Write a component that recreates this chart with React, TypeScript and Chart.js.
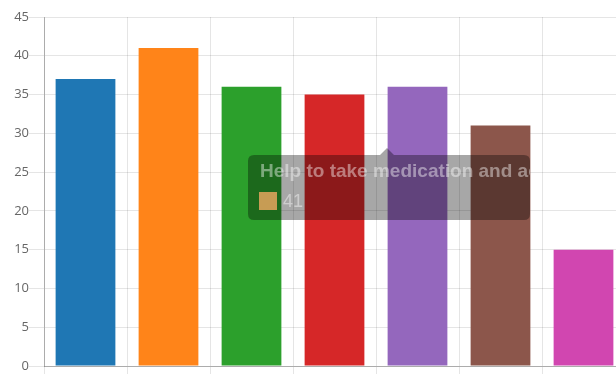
import React, { useEffect, useRef } from "react";
import { Chart, registerables } from "chart.js";

Chart.register(...registerables);

const categories = [
  "Help with personal care",
  "Help to take medication and access health services",
  "Help with meals",
  "Help with household tasks",
  "Help with transport",
  "Help with paperwork and finances",
  "Other help",
];
const values = [37, 41, 36, 35, 36, 31, 15];
const barColors = ["#1f77b4", "#ff8419", "#2ca02c", "#d62728", "#9467bd", "#8c564b", "#d146b0"];
const yMin = 0;
const yMax = 45;
const yStep = 5;
const activeIndex = 1;

const tooltipOverlay = {
  id: "tooltipOverlay",
  afterDraw(chart: any) {
    const ctx = chart.ctx;
    const a = 0.43;
    const bx = 248, by = 155, bw = 282, bh = 65, r = 6;
    const tipX = 387, tipY = 148, cs = 7;
    ctx.save();
    ctx.beginPath();
    ctx.moveTo(bx + r, by);
    ctx.lineTo(tipX - cs, by);
    ctx.lineTo(tipX, tipY);
    ctx.lineTo(tipX + cs, by);
    ctx.lineTo(bx + bw - r, by);
    ctx.quadraticCurveTo(bx + bw, by, bx + bw, by + r);
    ctx.lineTo(bx + bw, by + bh - r);
    ctx.quadraticCurveTo(bx + bw, by + bh, bx + bw - r, by + bh);
    ctx.lineTo(bx + r, by + bh);
    ctx.quadraticCurveTo(bx, by + bh, bx, by + bh - r);
    ctx.lineTo(bx, by + r);
    ctx.quadraticCurveTo(bx, by, bx + r, by);
    ctx.closePath();
    ctx.fillStyle = `rgba(0,0,0,${0.8 * a})`;
    ctx.fill();
    ctx.beginPath();
    ctx.rect(bx, by, bw, bh);
    ctx.clip();
    ctx.fillStyle = `rgba(255,255,255,${a})`;
    ctx.font = "bold 19px 'Liberation Sans', Arial, sans-serif";
    ctx.textAlign = "left";
    ctx.textBaseline = "alphabetic";
    ctx.fillText(categories[activeIndex], 260, 177);
    ctx.globalAlpha = 0.5;
    ctx.fillStyle = "#ffffff";
    ctx.fillRect(259, 192, 18, 18);
    ctx.fillStyle = barColors[activeIndex];
    ctx.fillRect(259, 192, 18, 18);
    ctx.globalAlpha = 1;
    ctx.fillStyle = `rgba(255,255,255,${a})`;
    ctx.font = "18px 'Liberation Sans', Arial, sans-serif";
    ctx.fillText(String(values[activeIndex]), 283, 207);
    ctx.restore();
  },
};

export default function App() {
  const ref = useRef<HTMLCanvasElement>(null);
  useEffect(() => {
    if (!ref.current) return;
    Chart.defaults.font.family = "'Open Sans', sans-serif";
    Chart.defaults.color = "#666";
    const chart = new Chart(ref.current, {
      type: "bar",
      data: {
        labels: categories,
        datasets: [
          {
            data: values,
            backgroundColor: barColors,
            borderWidth: 0,
          },
        ],
      },
      options: {
        animation: false,
        responsive: true,
        maintainAspectRatio: false,
        events: [],
        layout: { padding: { top: 17, left: 0, right: 0, bottom: 0 } },
        plugins: {
          legend: { display: false },
          tooltip: { enabled: false },
        },
        scales: {
          x: {
            grid: { color: "rgba(0,0,0,0.1)", tickLength: 10 },
            border: { color: "rgba(0,0,0,0.25)" },
            ticks: { maxRotation: 0, autoSkip: false, font: { size: 13 } },
            afterFit: (s: any) => {
              s.height = 30;
              s.paddingLeft = 0;
              s.paddingRight = 0;
            },
          },
          y: {
            min: yMin,
            max: yMax,
            ticks: { stepSize: yStep, padding: 0, font: { size: 13 } },
            grid: { color: "rgba(0,0,0,0.1)", tickLength: 15 },
            border: { color: "rgba(0,0,0,0.25)" },
            afterFit: (s: any) => {
              s.width = 44;
              s.paddingTop = 0;
              s.paddingBottom = 0;
            },
          },
        },
      },
      plugins: [tooltipOverlay],
    });
    return () => chart.destroy();
  }, []);
  return (
    <div style={{ position: "fixed", left: 0, top: 0, width: 616, height: 374, overflow: "hidden", background: "#fff" }}>
      <div style={{ position: "absolute", left: 0, top: 0, width: 625, height: 396 }}>
        <canvas ref={ref} />
      </div>
    </div>
  );
}
